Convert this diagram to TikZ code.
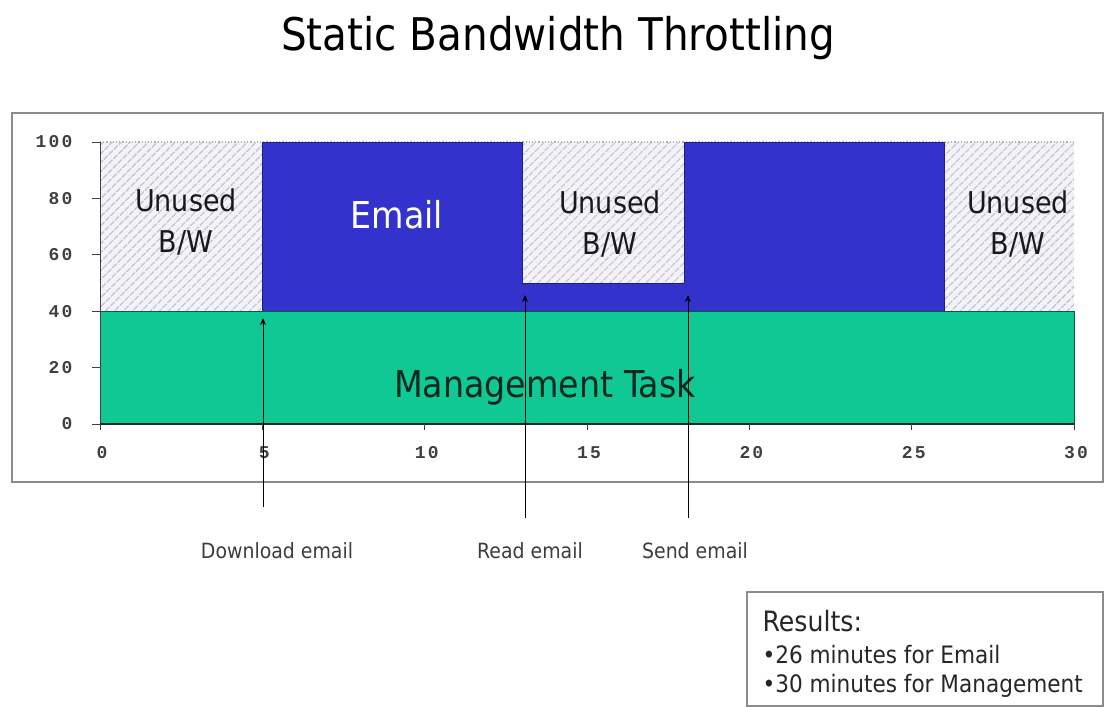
\documentclass[tikz,border=0pt]{standalone}
\usepackage{fontspec}
\newfontfamily\chartfont{DejaVu Sans}[FakeStretch=0.9]
\newfontfamily\tickfont{Liberation Mono}[LetterSpace=12]
\usetikzlibrary{patterns.meta, arrows.meta}

\definecolor{emailblue}{RGB}{52,50,204}
\definecolor{mgmtgreen}{RGB}{16,200,148}
\definecolor{hatchbg}{RGB}{242,242,248}
\definecolor{hatchline}{RGB}{200,200,212}
\definecolor{framegray}{RGB}{140,140,140}
\definecolor{mgmttext}{RGB}{8,40,30}
\definecolor{labgray}{RGB}{60,60,60}

\tikzset{
  titletext/.style={font=\chartfont\fontsize{45}{54}\selectfont, anchor=base},
  unusedtext/.style={font=\chartfont\fontsize{30}{41}\selectfont, align=center, text=black!90},
  bigtext/.style={font=\chartfont\fontsize{37}{44}\selectfont, anchor=base},
  ticktext/.style={font=\tickfont\bfseries\fontsize{18}{20}\selectfont, text=black!75},
  eventtext/.style={font=\chartfont\fontsize{21}{25}\selectfont, anchor=base, text=labgray},
  resulttext/.style={font=\chartfont\fontsize{24}{29}\selectfont, anchor=base west, text=black!85},
  pointer/.style={line width=0.9pt, -{Stealth[length=7pt,width=6pt]}},
  axisline/.style={line width=1pt, black!75},
  boxframe/.style={draw=framegray, line width=2pt},
}

\begin{document}
\begin{tikzpicture}[x=1pt, y=-1pt]
\useasboundingbox (0,0) rectangle (1104,707);

% heading
\node[titletext] (title) at (558,50) {Static Bandwidth Throttling};

% chart frame
\draw[boxframe] (12,113) rectangle (1103,482);

% plot area: x in minutes, y in percent of bandwidth
\begin{scope}[shift={(100,424)}, x=32.47pt, y=2.82pt]
  \fill[hatchbg] (0,40) rectangle (30,100);
  \fill[pattern={Lines[angle=45,distance=6.5pt,line width=1.6pt]}, pattern color=hatchline]
    (0,40) rectangle (30,100);
  \draw[black!30, dotted, line width=1.2pt] (0,100) -- (30,100);
  \filldraw[fill=emailblue, draw=emailblue!60!black, line width=0.8pt]
    (5,40) -- (5,100) -- (13,100) -- (13,50) -- (18,50) -- (18,100) -- (26,100) -- (26,40) -- cycle;
  \filldraw[fill=mgmtgreen, draw=mgmtgreen!45!black, line width=0.8pt] (0,0) rectangle (30,40);
  \draw[axisline] (0,0) -- (0,100);
  \draw[line width=1.6pt, black!85] (0,0) -- (30,0);
  \foreach \v in {0,20,...,100} {
    \draw[axisline] (0,\v) -- ++(-8pt,0);
    \node[ticktext, anchor=east, xshift=-24pt] at (0,\v) {\v};
  }
  \foreach \m in {0,5,...,30} {
    \draw[axisline] (\m,0) -- ++(0,-6pt);
    \node[ticktext, yshift=-29pt, xshift=2pt] at (\m,0) {\m};
  }
\end{scope}

% labels inside the chart
\node[unusedtext] (unused1) at (186,222) {Unused\\B/W};
\node[unusedtext] (unused2) at (610,224) {Unused\\B/W};
\node[unusedtext] (unused3) at (1018,224) {Unused\\B/W};
\node[bigtext, text=white] (email) at (397,228) {Email};
\node[bigtext, text=mgmttext] (mgmt) at (545,397) {Management Task};

% events along the time axis
\node[eventtext] (download) at (277,558) {Download email};
\node[eventtext] (read) at (530,558) {Read email};
\node[eventtext] (send) at (695,558) {Send email};

\coordinate (downloadfoot) at (263,507);
\coordinate (downloadtip) at (263,318);
\coordinate (readfoot) at (525,518);
\coordinate (readtip) at (525,295);
\coordinate (sendfoot) at (688,518);
\coordinate (sendtip) at (688,295);
\draw[pointer] (downloadfoot) -- (downloadtip);
\draw[pointer] (readfoot) -- (readtip);
\draw[pointer] (sendfoot) -- (sendtip);

% results summary
\draw[draw=framegray, line width=1.5pt] (747,592) rectangle (1103,706);
\node[resulttext, font=\chartfont\fontsize{28}{32}\selectfont] (results) at (759,631) {Results:};
\node[resulttext] (emailres) at (759,663) {•26 minutes for Email};
\node[resulttext] (mgmtres) at (759,692) {•30 minutes for Management};
\end{tikzpicture}
\end{document}
